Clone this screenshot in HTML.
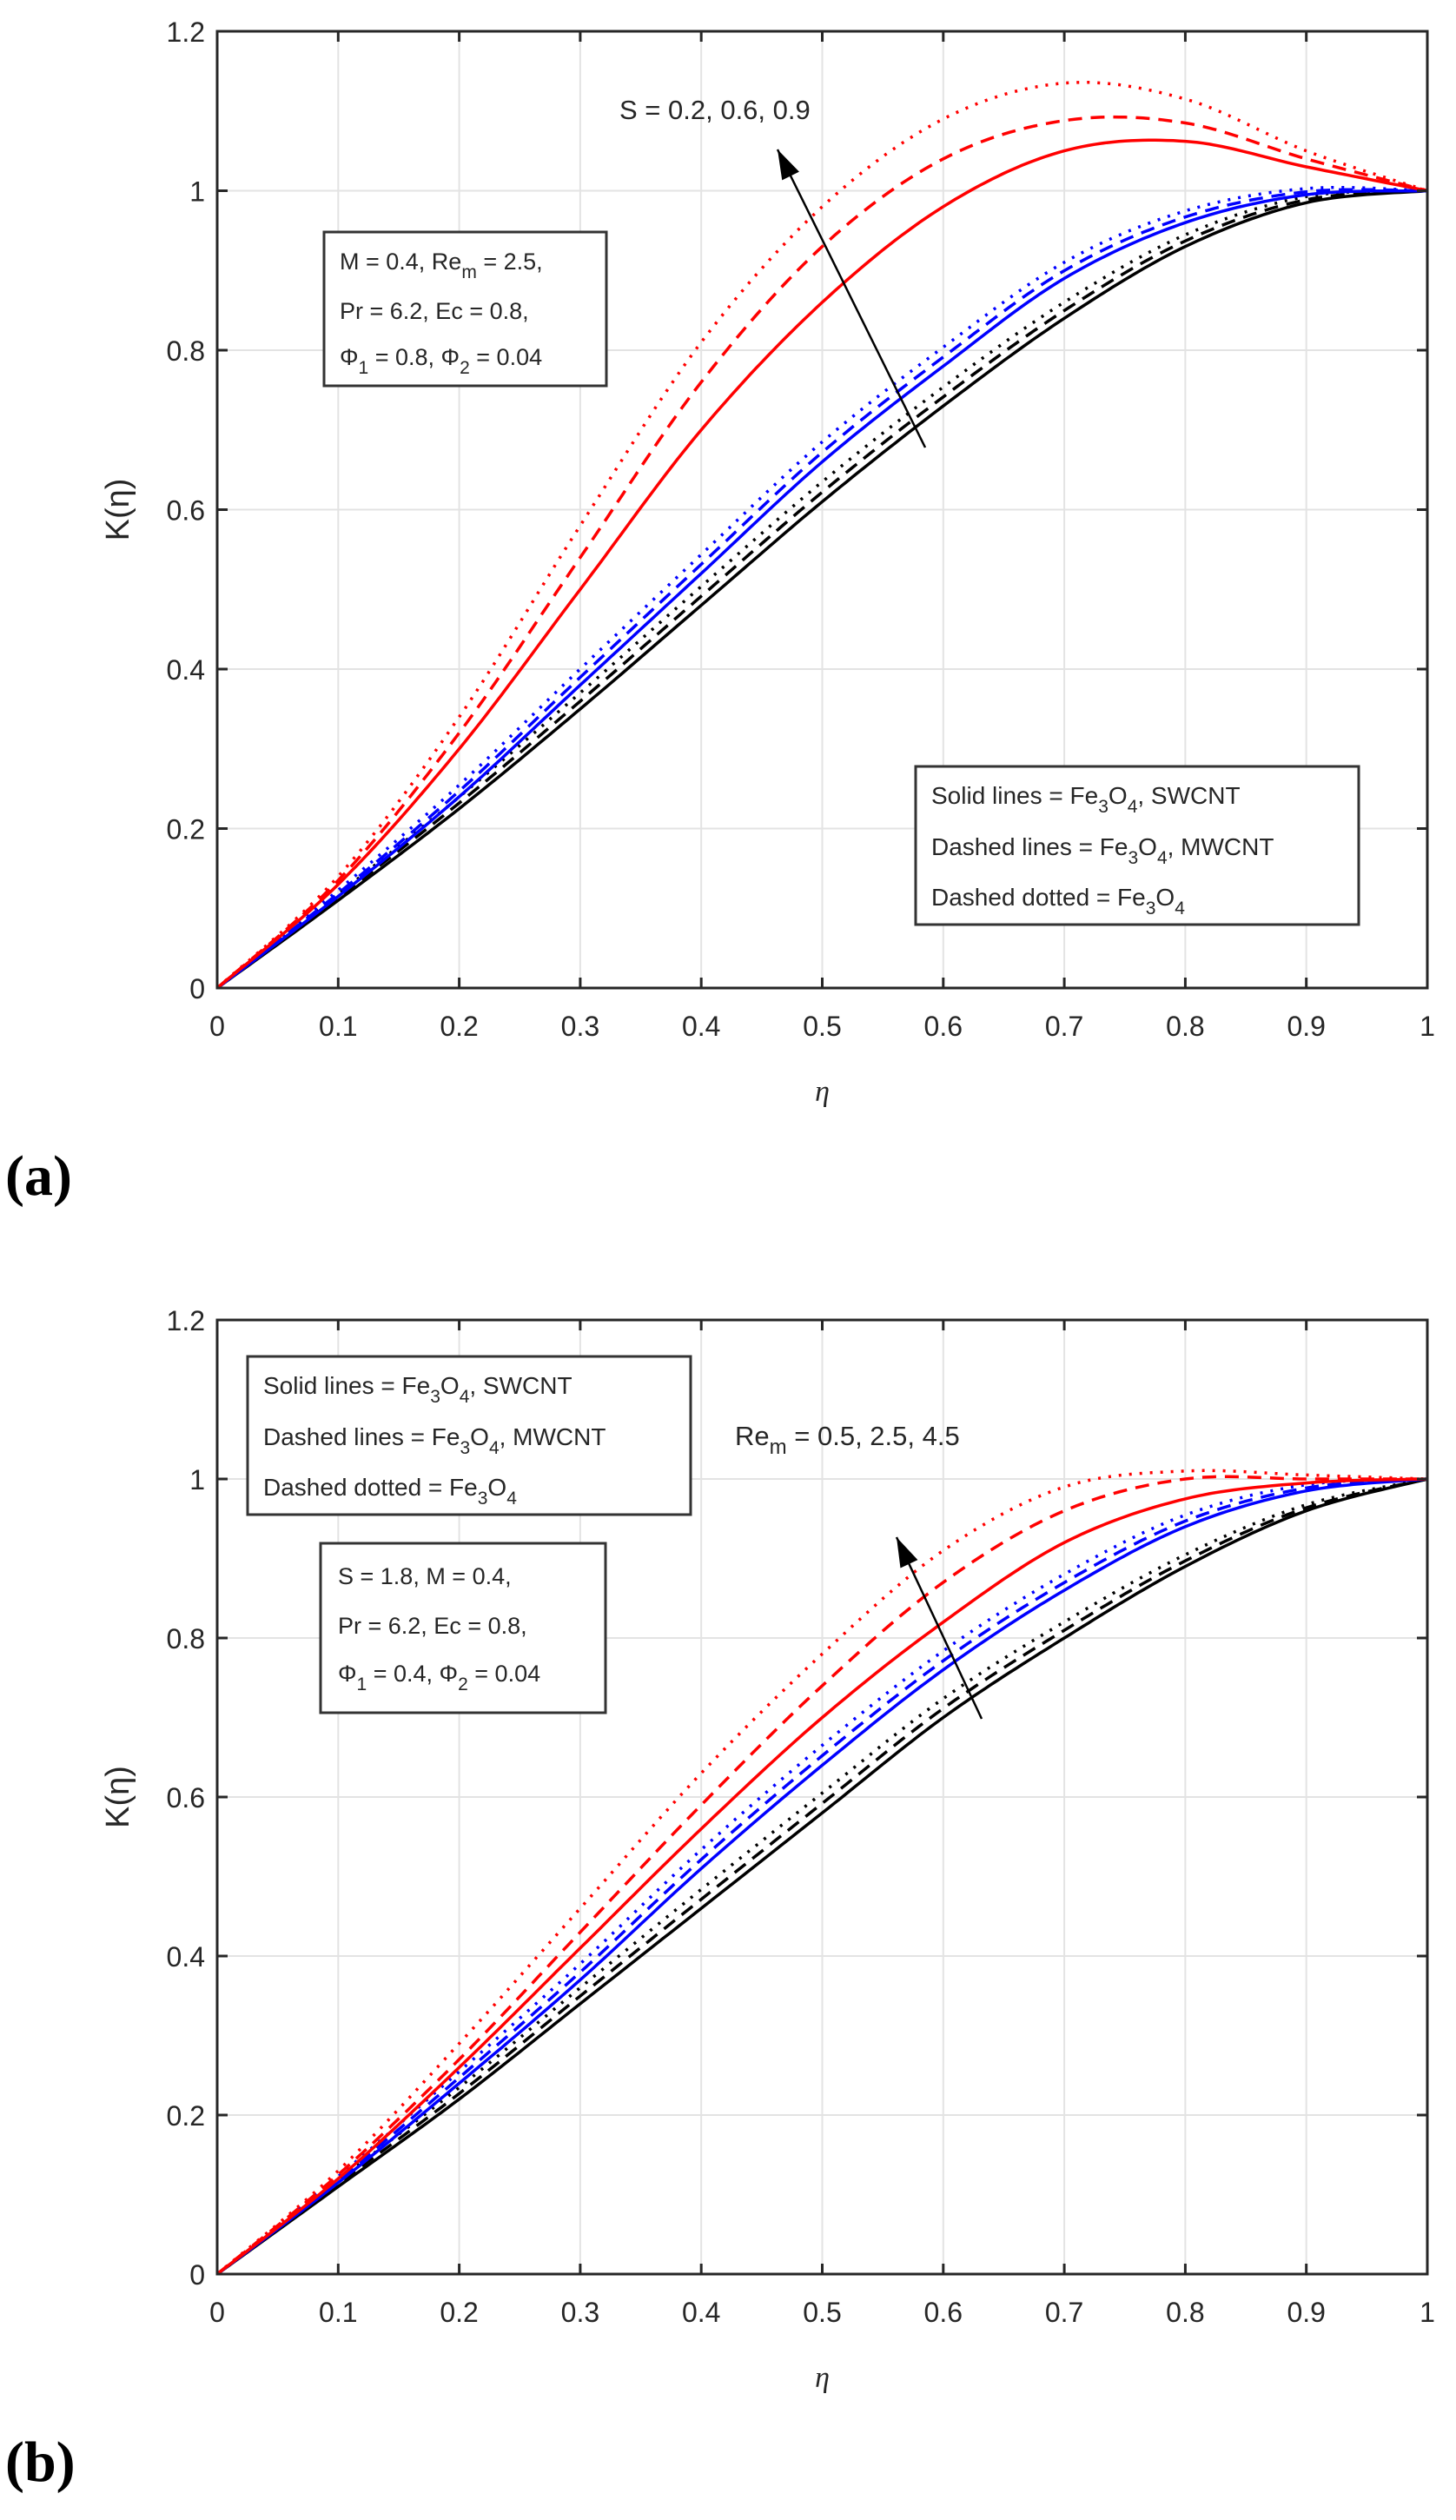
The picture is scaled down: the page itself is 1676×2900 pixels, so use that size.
<!DOCTYPE html>
<html><head><meta charset="utf-8"><style>
body{margin:0;background:#fff;}
svg{display:block;font-family:"Liberation Sans",sans-serif;}
</style></head><body>
<svg id="s" width="1676" height="2900" xmlns="http://www.w3.org/2000/svg">
<rect width="1676" height="2900" fill="#fff"/>
<g id="A"></g><g id="B"></g>
<text x="6" y="1375" font-family="Liberation Serif" font-weight="bold" font-size="66">(a)</text>
<text x="6" y="2855" font-family="Liberation Serif" font-weight="bold" font-size="66">(b)</text>
</svg>
<script>
const NS="http://www.w3.org/2000/svg";
function el(p,t,a,txt){const e=document.createElementNS(NS,t);for(const k in a)e.setAttribute(k,a[k]);if(txt!=null)e.textContent=txt;p.appendChild(e);return e;}
function interp(pts){
 const out=[];for(let i=0;i<pts.length-1;i++){const p0=pts[Math.max(i-1,0)],p1=pts[i],p2=pts[i+1],p3=pts[Math.min(i+2,pts.length-1)];
 for(let t=0;t<1;t+=0.05){const t2=t*t,t3=t2*t;
 const f=(a,b,c,d)=>0.5*((2*b)+(-a+c)*t+(2*a-5*b+4*c-d)*t2+(-a+3*b-3*c+d)*t3);
 out.push([f(p0[0],p1[0],p2[0],p3[0]),f(p0[1],p1[1],p2[1],p3[1])]);}}
 out.push(pts[pts.length-1]);return out;}
function plot(g,L,T,R,B,series){
 const X=v=>L+(R-L)*v, Y=v=>B-(B-T)*v/1.2;
 for(let i=1;i<10;i++)el(g,'line',{x1:X(i/10),x2:X(i/10),y1:T,y2:B,stroke:'#e3e3e3','stroke-width':2});
 for(let i=1;i<6;i++)el(g,'line',{x1:L,x2:R,y1:Y(i*0.2),y2:Y(i*0.2),stroke:'#e3e3e3','stroke-width':2});
 for(const s of series){const xs=[0,.1,.2,.3,.4,.5,.6,.7,.8,.9,1];const pts=s.y.map((v,i)=>[X(xs[i]),Y(v)]);
  const ip=interp(pts);el(g,'path',{d:'M'+ip.map(p=>p[0].toFixed(1)+','+p[1].toFixed(1)).join('L'),fill:'none',stroke:s.c,'stroke-width':3.5,'stroke-dasharray':s.d||'none'});}
 el(g,'rect',{x:L,y:T,width:R-L,height:B-T,fill:'none',stroke:'#262626','stroke-width':3});
 for(let i=0;i<=10;i++){el(g,'line',{x1:X(i/10),x2:X(i/10),y1:B,y2:B-12,stroke:'#262626','stroke-width':3});el(g,'line',{x1:X(i/10),x2:X(i/10),y1:T,y2:T+12,stroke:'#262626','stroke-width':3});
  el(g,'text',{x:X(i/10),y:B+55,'text-anchor':'middle','font-size':32,fill:'#262626'},i==0?'0':i==10?'1':'0.'+i);}
 for(let i=0;i<=6;i++){const v=i*0.2;el(g,'line',{x1:L,x2:L+12,y1:Y(v),y2:Y(v),stroke:'#262626','stroke-width':3});el(g,'line',{x1:R,x2:R-12,y1:Y(v),y2:Y(v),stroke:'#262626','stroke-width':3});
  el(g,'text',{x:L-14,y:Y(v)+12,'text-anchor':'end','font-size':32,fill:'#262626'},i==0?'0':i==5?'1':v.toFixed(1));}
 el(g,'text',{x:(L+R)/2,y:B+130,'text-anchor':'middle','font-size':34,'font-style':'italic','font-family':'Liberation Serif',fill:'#262626'},'η');
 const ty=(T+B)/2;el(g,'text',{x:0,y:0,transform:`translate(${L-102},${ty}) rotate(-90)`,'text-anchor':'middle','font-size':38,fill:'#262626'},'K(η)');
}
function add(s,dy){return s.map((v,i)=>i==0||i==10?v:v+dy*Math.sin(Math.PI*i/10));}
const D='16,10',P='3,9';
function fam(c,base,ds,dd){return[{c,y:base},{c,y:ds||add(base,0.012),d:D},{c,y:dd||add(base,0.025),d:P}];}
const A=document.getElementById('A');
plot(A,250,36,1643,1137,[
 ...fam('#000',[0,.11,.225,.35,.48,.61,.73,.84,.93,.985,1]),
 ...fam('#00f',[0,.115,.24,.38,.52,.66,.78,.89,.96,.995,1]),
 ...fam('#f00',[0,.13,.3,.5,.7,.86,.98,1.05,1.062,1.03,1],[0,.135,.32,.54,.76,.93,1.04,1.088,1.085,1.04,1],[0,.14,.34,.58,.81,.98,1.09,1.135,1.115,1.05,1])
]);
const B=document.getElementById('B');
plot(B,250,1519,1643,2617,[
 ...fam('#000',[0,.11,.22,.34,.46,.58,.70,.80,.89,.96,1]),
 ...fam('#00f',[0,.115,.24,.37,.51,.64,.76,.86,.94,.985,1]),
 ...fam('#f00',[0,.12,.26,.41,.56,.70,.82,.92,.975,.995,1],[0,.125,.27,.43,.59,.74,.87,.96,1.0,1.0,1],[0,.13,.29,.46,.63,.78,.91,.99,1.01,1.005,1])
]);
function box(g,x,y,w,h){el(g,'rect',{x,y,width:w,height:h,fill:'#fff',stroke:'#333','stroke-width':3});}
function tx(g,x,y,html,fs){const t=el(g,'text',{x,y,'font-size':fs,fill:'#262626'});t.innerHTML=html;}
const S=(s,rest)=>`<tspan dy="10" font-size="21">${s}</tspan><tspan dy="-10">${rest}</tspan>`;
function legend(g,x,y){box(g,x,y,510,182);
 tx(g,x+18,y+43,`Solid lines = Fe${S('3','O')}${S('4',', SWCNT')}`,28);
 tx(g,x+18,y+102,`Dashed lines = Fe${S('3','O')}${S('4',', MWCNT')}`,28);
 tx(g,x+18,y+160,`Dashed dotted = Fe${S('3','O')}${S('4','')}`,28);}
legend(A,1054,882);
box(A,373,267,325,177);
tx(A,391,310,`M = 0.4, Re${S('m',' = 2.5,')}`,27);tx(A,391,367,`Pr = 6.2, Ec = 0.8,`,27);tx(A,391,420,`Φ${S('1',' = 0.8, Φ')}${S('2',' = 0.04')}`,27);
tx(A,713,137,'S = 0.2, 0.6, 0.9',31);
function arrow(g,x1,y1,x2,y2){el(g,'line',{x1,y1,x2,y2,stroke:'#000','stroke-width':2.5});const a=Math.atan2(y2-y1,x2-x1),l=34,w=11;
 const bx=x2-l*Math.cos(a),by=y2-l*Math.sin(a);el(g,'polygon',{points:`${x2},${y2} ${bx+w*Math.sin(a)},${by-w*Math.cos(a)} ${bx-w*Math.sin(a)},${by+w*Math.cos(a)}`,fill:'#000'});}
arrow(A,1065,515,895,172);
legend(B,285,1561);
box(B,369,1776,328,195);
tx(B,389,1823,`S = 1.8, M = 0.4,`,27);tx(B,389,1880,`Pr = 6.2, Ec = 0.8,`,27);tx(B,389,1935,`Φ${S('1',' = 0.4, Φ')}${S('2',' = 0.04')}`,27);
tx(B,846,1663,`Re<tspan dy="10" font-size="24">m</tspan><tspan dy="-10"> = 0.5, 2.5, 4.5</tspan>`,31);
arrow(B,1130,1978,1032,1769);
</script>
</body></html>
